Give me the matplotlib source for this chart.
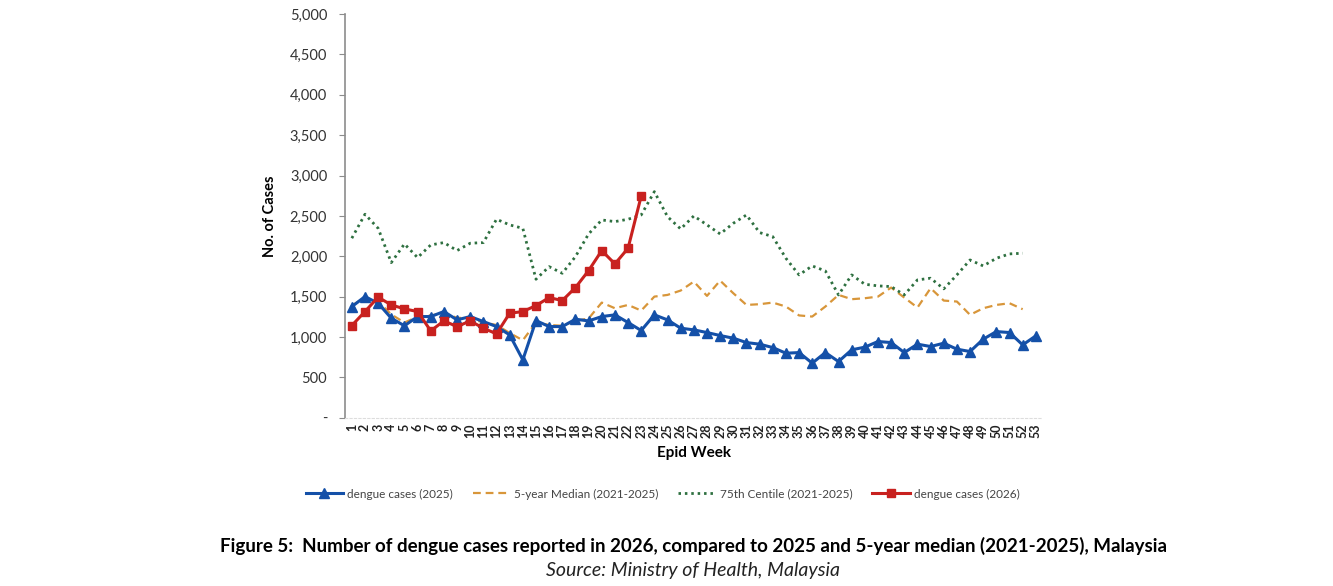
import matplotlib
matplotlib.use('Agg')
import matplotlib.pyplot as plt
from matplotlib.ticker import FuncFormatter

plt.rcParams['font.family'] = ['Lato', 'DejaVu Sans']

# ── Data ──────────────────────────────────────────────────────────────────────
weeks = list(range(1, 54))

cases_2025 = [1377, 1501, 1419, 1233, 1140, 1254, 1254, 1316, 1213, 1254,
              1192, 1130, 1027, 718, 1204, 1130, 1130, 1221, 1200, 1254,
              1275, 1180, 1081, 1275, 1213, 1110, 1089, 1056, 1019, 986,
              932, 912, 870, 800, 808, 677, 808, 697, 842, 875,
              945, 932, 808, 912, 883, 924, 850, 821, 974, 1068,
              1056, 903, 1015]

median_5yr = [1390, 1490, 1440, 1280, 1180, 1250, 1270, 1290, 1240, 1230,
              1180, 1150, 1050, 960, 1180, 1150, 1140, 1200, 1230, 1427,
              1357, 1398, 1328, 1501, 1522, 1576, 1687, 1510, 1699, 1543,
              1398, 1407, 1427, 1378, 1268, 1254, 1378, 1522, 1469, 1481,
              1501, 1613, 1489, 1365, 1605, 1452, 1440, 1275, 1357, 1398,
              1419, 1345]

centile_75 = [2224, 2521, 2347, 1922, 2153, 1984, 2141, 2170, 2071, 2162,
              2170, 2459, 2389, 2347, 1716, 1872, 1790, 1996, 2277, 2450,
              2430, 2459, 2512, 2801, 2491, 2339, 2500, 2389, 2277, 2409,
              2512, 2294, 2244, 1976, 1770, 1881, 1819, 1522, 1770, 1654,
              1634, 1625, 1522, 1708, 1729, 1597, 1770, 1955, 1881, 1976,
              2030, 2038]

cases_2026 = [1143, 1316, 1494, 1398, 1349, 1316, 1077, 1200, 1130, 1200,
              1110, 1040, 1295, 1316, 1390, 1489, 1452, 1613, 1823, 2071,
              1906, 2100, 2747]

# ── Colours ───────────────────────────────────────────────────────────────────
COL_2025 = '#1450A8'
COL_MED = '#D8963A'
COL_75 = '#2E7040'
COL_2026 = '#C8211F'
AXIS_GREY = '#8C8C8C'

fig = plt.figure(figsize=(13.33, 5.86), dpi=100)
ax = fig.add_axes([0.259, 0.287, 0.523, 0.689])

ax.plot(weeks[:len(median_5yr)], median_5yr, color=COL_MED, lw=1.6,
        ls=(0, (3.5, 2.2)), label='5-year Median (2021-2025)', zorder=2)
ax.plot(weeks[:len(centile_75)], centile_75, color=COL_75, lw=2.0,
        ls=(0, (0.9, 1.4)), label='75th Centile (2021-2025)', zorder=2)
ax.plot(weeks, cases_2025, color=COL_2025, lw=2.2, marker='^', ms=7,
        label='dengue cases (2025)', zorder=3)
ax.plot(weeks[:len(cases_2026)], cases_2026, color=COL_2026, lw=2.2,
        marker='s', ms=5.5, label='dengue cases (2026)', zorder=4)

ax.set_xlim(0.5, 53.5)
ax.set_ylim(0, 5000)
ax.set_yticks(range(0, 5001, 500))
ax.yaxis.set_major_formatter(FuncFormatter(lambda v, p: '-' if v == 0 else f'{int(v):,}'))
ax.set_xticks(weeks)
ax.set_xticklabels([str(w) for w in weeks], rotation=90, fontsize=9,
                   fontweight='bold', color='#222222')
ax.tick_params(axis='y', labelsize=10.5, colors='#333333', length=4,
               color=AXIS_GREY, pad=9)
ax.tick_params(axis='x', length=0, pad=4)

for s in ['top', 'right']:
    ax.spines[s].set_visible(False)
ax.spines['left'].set_color(AXIS_GREY)
ax.spines['left'].set_linewidth(1.2)
ax.spines['bottom'].set_color('#DDDDDD')
ax.spines['bottom'].set_linestyle((0, (2, 2)))

ax.set_xlabel('Epid Week', fontsize=11, fontweight='bold', labelpad=6)
ax.set_ylabel('No. of Cases', fontsize=10.5, fontweight='bold', labelpad=9)

handles, labels = ax.get_legend_handles_labels()
order = [2, 0, 1, 3]
leg = fig.legend([handles[i] for i in order], [labels[i] for i in order],
                 loc='center', bbox_to_anchor=(0.497, 0.157), ncol=4,
                 frameon=False, fontsize=8.5, handlelength=3.2,
                 columnspacing=1.7, handletextpad=0.3)
for t in leg.get_texts():
    t.set_color('#444444')

fig.text(0.52, 0.068,
         'Figure 5:  Number of dengue cases reported in 2026, compared to 2025 and 5-year median (2021-2025), Malaysia',
         ha='center', va='center', fontsize=13.5, fontweight='bold', color='black')
fig.text(0.52, 0.027, 'Source: Ministry of Health, Malaysia',
         ha='center', va='center', fontsize=14, fontstyle='italic', color='#222222')

fig.savefig('out.png', dpi=100, facecolor='white')
plt.close(fig)
